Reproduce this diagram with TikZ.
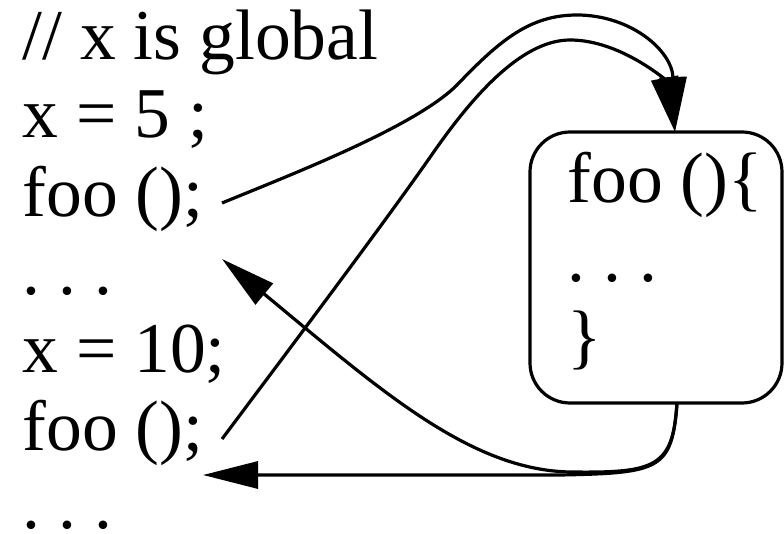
\documentclass[tikz,border=0pt]{standalone}
\usepackage{fontspec}
\setmainfont{Liberation Serif}
\usetikzlibrary{arrows.meta}
\begin{document}
\begin{tikzpicture}[x=1pt,y=-1pt, line width=3.2pt,
  code/.style={font=\fontsize{71.5}{78}\selectfont\frenchspacing, anchor=base west, inner sep=0pt},
  conn/.style={-{Triangle[length=55pt,width=27pt]}, line join=round},
  fnbox/.style={draw, rounded corners=40pt, minimum width=252pt, minimum height=271pt, inner sep=0pt}]
\useasboundingbox (0,0) rectangle (784,534);
% left column
\node[code] (l1) at (21,60) {// x is global};
\node[code] (l2) at (21,138) {x = 5 ;};
\node[code] (l3) at (21,217) {foo ();};
\node[code] (l4) at (21,295) {. . .};
\node[code] (l5) at (21,372) {x = 10;};
\node[code] (l6) at (21,450) {foo ();};
\node[code] (l7) at (21,528) {. . .};
% function box
\node[fnbox] (box) at (656,267.5) {};
\node[code] (b1) at (566,203) {foo ()\{};
\node[code] (b2) at (566,282) {. . .};
\node[code] (b3) at (566,360) {\}};
% connector ends
\coordinate (c1s) at (222,203);
\coordinate (c2s) at (222,439);
\coordinate (in) at (675,132);
\coordinate (out) at (677,403);
\coordinate (r1) at (203,475);
\coordinate (r2) at (222,259);
% calls
\draw[conn] (c1s) .. controls (290,175) and (415,127) .. (457,85)
  .. controls (500,40) and (530,15) .. (577,15)
  .. controls (630,15) and (672,50) .. (in);
\draw[conn] (c2s) .. controls (300,335) and (390,215) .. (433,153)
  .. controls (470,100) and (520,40) .. (570,40)
  .. controls (620,40) and (665,80) .. (in);
% returns
\draw[conn] (out) .. controls (672,470) and (660,473) .. (560,475) -- (r1);
\draw[conn] (out) .. controls (673,468) and (655,473) .. (570,472)
  .. controls (470,470) and (380,390) .. (r2);
\end{tikzpicture}
\end{document}
